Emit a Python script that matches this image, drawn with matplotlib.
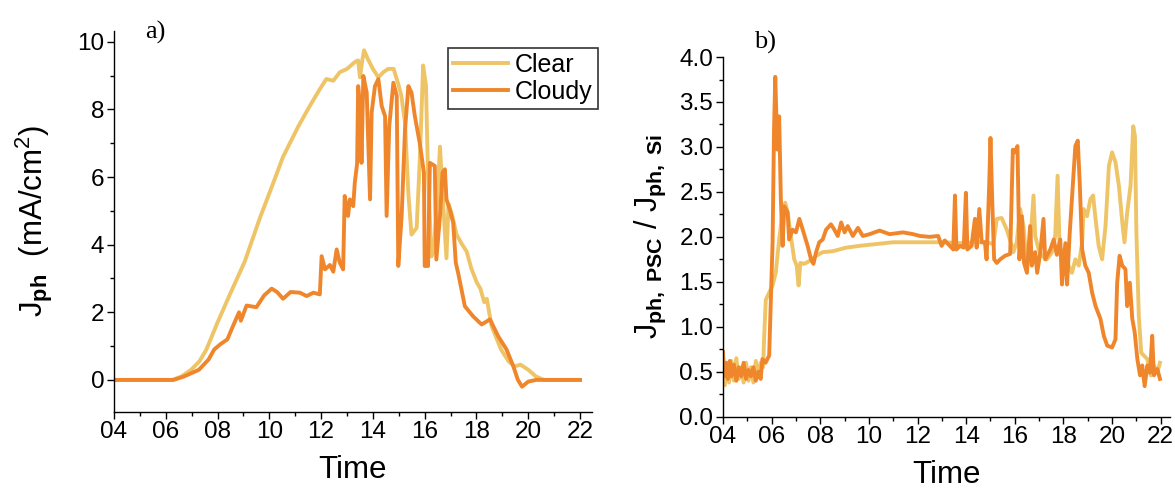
import matplotlib
matplotlib.use("Agg")
import matplotlib.pyplot as plt
from matplotlib.ticker import MultipleLocator, FuncFormatter

plt.rcParams['font.family'] = ['Liberation Sans', 'DejaVu Sans']
plt.rcParams['mathtext.fontset'] = 'custom'
plt.rcParams['mathtext.rm'] = 'Liberation Sans'
plt.rcParams['mathtext.it'] = 'Liberation Sans'
plt.rcParams['mathtext.bf'] = 'Liberation Sans:bold'

CLEAR_C = '#EEC466'
CLOUDY_C = '#F0862B'

# ---------------- panel a) : J_ph (mA/cm^2) ----------------
a_clear_t = [4.0, 6.25, 6.6, 6.98, 7.3, 7.57, 8.0, 8.46, 9.05, 9.64, 10.09, 10.53, 11.12, 11.56,
             11.95, 12.2, 12.47, 12.72, 13.0, 13.3, 13.43, 13.5, 13.6, 13.66, 13.8, 14.0, 14.21,
             14.4, 14.59, 14.8, 14.98, 15.1, 15.24, 15.37, 15.49, 15.69, 15.81, 15.94, 16.05,
             16.13, 16.26, 16.35, 16.5, 16.59, 16.7, 16.84, 16.92, 17.05, 17.23, 17.45, 17.62,
             17.8, 18.0, 18.15, 18.3, 18.4, 18.58, 18.95, 19.24, 19.47, 19.7, 20.0, 20.3, 20.6, 22.0]
a_clear_v = [0.0, 0.0, 0.1, 0.3, 0.55, 0.9, 1.7, 2.5, 3.5, 4.8, 5.7, 6.6, 7.5, 8.1,
             8.6, 8.9, 8.85, 9.1, 9.2, 9.4, 9.45, 8.95, 9.5, 9.75, 9.5, 9.2, 8.95,
             9.1, 9.2, 9.2, 8.75, 8.4, 7.6, 5.5, 4.3, 4.5, 6.5, 9.3, 8.7,
             6.0, 3.65, 3.8, 5.5, 6.9, 5.4, 3.6, 5.2, 4.9, 4.3, 4.0, 3.8,
             3.3, 2.9, 2.7, 2.3, 2.4, 1.6, 0.9, 0.55, 0.4, 0.45, 0.3, 0.1, 0.0, 0.0]

a_cloudy_t = [4.0, 6.3, 6.7, 7.28, 7.65, 7.87, 8.1, 8.38, 8.6, 8.83, 8.9, 9.12, 9.5, 9.8, 10.09,
              10.3, 10.53, 10.82, 11.18, 11.44, 11.7, 11.95, 12.02, 12.15, 12.34, 12.47, 12.6,
              12.72, 12.85, 12.91, 13.04, 13.11, 13.24, 13.3, 13.39, 13.43, 13.52, 13.56, 13.63,
              13.76, 13.89, 13.95, 14.08, 14.21, 14.34, 14.47, 14.53, 14.63, 14.79, 14.92, 14.98,
              15.11, 15.24, 15.37, 15.49, 15.62, 15.81, 15.97, 16.0, 16.13, 16.2, 16.39, 16.45,
              16.59, 16.69, 16.78, 16.84, 16.97, 17.1, 17.2, 17.29, 17.42, 17.55, 17.87, 18.2,
              18.52, 18.84, 19.16, 19.42, 19.6, 19.76, 20.0, 20.3, 22.0]
a_cloudy_v = [0.0, 0.0, 0.1, 0.3, 0.6, 0.9, 1.05, 1.2, 1.6, 2.0, 1.75, 2.2, 2.15, 2.5, 2.7,
              2.6, 2.4, 2.6, 2.58, 2.48, 2.58, 2.53, 3.66, 3.27, 3.4, 3.2, 3.86,
              3.47, 3.27, 5.44, 4.85, 5.34, 5.14, 5.83, 6.4, 8.69, 8.0, 6.42, 8.99,
              8.5, 5.34, 7.9, 8.69, 8.9, 8.1, 7.8, 4.85, 7.5, 8.79, 8.4, 3.37,
              4.85, 7.4, 8.69, 8.5, 7.8, 7.0, 6.13, 3.37, 3.37, 6.42, 6.33, 3.56,
              4.85, 6.13, 6.23, 5.34, 5.04, 4.65, 3.47, 3.17, 2.68, 2.18, 1.88, 1.64,
              1.79, 1.29, 0.9, 0.41, 0.0, -0.2, -0.05, 0.0, 0.0]

# ---------------- panel b) : J_ph,PSC / J_ph,Si ----------------
b_clear_t = [4.0, 4.08, 4.15, 4.25, 4.35, 4.45, 4.55, 4.65, 4.75, 4.85, 4.95, 5.05, 5.15, 5.25,
             5.35, 5.45, 5.55, 5.65, 5.69, 5.76, 5.9, 6.04, 6.17, 6.31, 6.45, 6.56, 6.66, 6.79,
             6.93, 7.03, 7.11, 7.18, 7.34, 7.55, 7.83, 8.1, 8.51, 9.06, 9.61, 10.3, 10.99, 11.68,
             12.37, 13.05, 13.74, 14.43, 14.84, 15.12, 15.26, 15.46, 15.67, 15.88, 15.94, 16.08,
             16.22, 16.36, 16.47, 16.6, 16.77, 16.84, 16.98, 17.11, 17.32, 17.53, 17.66, 17.76,
             17.84, 18.0, 18.21, 18.35, 18.49, 18.63, 18.77, 18.83, 18.97, 19.11, 19.22, 19.32,
             19.45, 19.59, 19.73, 19.87, 20.0, 20.14, 20.28, 20.42, 20.51, 20.62, 20.76, 20.87,
             20.94, 21.0, 21.1, 21.2, 21.31, 21.45, 21.59, 21.72, 21.86, 21.97]
b_clear_v = [0.5, 0.35, 0.6, 0.38, 0.62, 0.4, 0.65, 0.42, 0.55, 0.38, 0.6, 0.4, 0.55, 0.38,
             0.62, 0.45, 0.6, 0.55, 0.86, 1.3, 1.38, 1.46, 1.6, 1.97, 2.27, 2.38, 2.27, 2.01,
             1.75, 1.68, 1.46, 1.71, 1.7, 1.73, 1.79, 1.83, 1.84, 1.88, 1.9, 1.92, 1.94, 1.94,
             1.94, 1.94, 1.93, 1.94, 1.94, 1.92, 2.2, 2.21, 2.08, 1.9, 1.83, 1.94,
             2.31, 2.12, 1.75, 1.78, 2.46, 2.01, 1.86, 1.79, 1.75, 1.83, 2.01, 2.68,
             1.9, 1.79, 1.68, 1.6, 1.75, 1.68, 1.94, 2.31, 2.23, 2.42, 2.46, 2.2,
             1.9, 1.75, 2.12, 2.79, 2.94, 2.83, 2.57, 2.16, 1.94, 2.27, 2.57, 3.23,
             3.12, 2.05, 1.12, 0.71, 0.68, 0.64, 0.46, 0.57, 0.49, 0.6]

b_cloudy_t = [4.0, 4.05, 4.12, 4.2, 4.28, 4.35, 4.45, 4.55, 4.65, 4.75, 4.85, 4.95, 5.05, 5.15,
              5.25, 5.35, 5.45, 5.55, 5.62, 5.75, 5.9, 5.97, 6.04, 6.1, 6.15, 6.2, 6.24, 6.31,
              6.38, 6.45, 6.52, 6.66, 6.72, 6.86, 7.0, 7.14, 7.28, 7.48, 7.62, 7.72, 7.83, 7.96,
              8.1, 8.24, 8.44, 8.58, 8.72, 8.86, 9.0, 9.13, 9.34, 9.55, 9.75, 10.03, 10.44,
              10.85, 11.4, 11.82, 12.1, 12.5, 12.85, 12.99, 13.12, 13.33, 13.47, 13.54, 13.6,
              13.75, 13.9, 13.99, 14.05, 14.22, 14.36, 14.43, 14.54, 14.64, 14.77, 14.84, 14.95,
              15.0, 15.07, 15.15, 15.26, 15.4, 15.6, 15.81, 15.92, 16.01, 16.11, 16.19, 16.29,
              16.38, 16.5, 16.63, 16.7, 16.84, 16.92, 17.05, 17.18, 17.25, 17.46, 17.6, 17.73,
              17.87, 17.94, 18.08, 18.15, 18.26, 18.35, 18.49, 18.59, 18.67, 18.77, 18.9, 19.04,
              19.18, 19.32, 19.52, 19.66, 19.8, 20.0, 20.14, 20.21, 20.31, 20.42, 20.55, 20.62,
              20.73, 20.83, 20.93, 21.04, 21.15, 21.24, 21.34, 21.45, 21.56, 21.65, 21.72, 21.86,
              21.97]
b_cloudy_v = [0.72, 0.45, 0.6, 0.42, 0.62, 0.45, 0.58, 0.4, 0.55, 0.45, 0.6, 0.42, 0.52, 0.45,
              0.55, 0.4, 0.5, 0.42, 0.64, 0.6, 0.68, 1.3, 1.94, 3.2, 3.78, 3.3, 2.97, 3.34,
              2.42, 1.9, 2.34, 2.27, 1.97, 2.08, 2.05, 2.2, 2.08, 1.9, 1.75, 1.7, 1.83, 1.94,
              1.97, 2.08, 2.14, 2.08, 2.01, 2.16, 2.05, 2.12, 2.01, 2.1, 2.01, 2.03, 2.07,
              2.03, 2.05, 2.03, 2.01, 2.0, 2.01, 1.9, 1.96, 1.9, 1.86, 2.46, 1.86,
              1.9, 1.88, 2.49, 1.86, 1.9, 2.2, 1.88, 2.31, 1.94, 1.94, 1.75, 2.6,
              3.1, 2.42, 1.75, 1.71, 1.75, 1.79, 1.81, 2.97, 2.94, 3.01, 1.75, 2.23,
              1.71, 1.6, 2.12, 1.68, 1.83, 1.6, 1.83, 2.2, 1.75, 1.86, 1.97, 1.8,
              1.97, 1.47, 1.93, 1.47, 2.05, 2.42, 3.01, 3.07, 2.6, 1.86, 1.68, 1.6,
              1.38, 1.23, 1.09, 0.9, 0.79, 0.77, 0.86, 1.49, 1.79, 1.68, 1.64, 1.23,
              1.49, 1.09, 0.94, 0.64, 0.46, 0.57, 0.34, 0.57, 0.49, 0.9, 0.46, 0.53,
              0.42]

xticks = [4, 6, 8, 10, 12, 14, 16, 18, 20, 22]

fig = plt.figure(figsize=(11.75, 4.9), dpi=100)
axA = fig.add_axes([0.0970, 0.1598, 0.4068, 0.7776])
axB = fig.add_axes([0.6153, 0.1496, 0.3804, 0.7340])

LW = 2.8
axA.plot(a_clear_t, a_clear_v, color=CLEAR_C, lw=LW, label='Clear')
axA.plot(a_cloudy_t, a_cloudy_v, color=CLOUDY_C, lw=LW, label='Cloudy')
axB.plot(b_clear_t, b_clear_v, color=CLEAR_C, lw=LW)
axB.plot(b_cloudy_t, b_cloudy_v, color=CLOUDY_C, lw=LW)

fmt = FuncFormatter(lambda x, p: '%02d' % int(round(x)))
for ax in (axA, axB):
    for s in ('top', 'right'):
        ax.spines[s].set_visible(False)
    for s in ('left', 'bottom'):
        ax.spines[s].set_linewidth(1.0)
    ax.set_xticks(xticks)
    ax.xaxis.set_major_formatter(fmt)
    ax.xaxis.set_minor_locator(MultipleLocator(1))
    ax.tick_params(which='major', direction='out', length=5, width=1.0, labelsize=17.5, pad=2)
    ax.tick_params(which='minor', direction='out', length=3, width=1.0)
    ax.set_xlabel('Time', fontsize=22.5, labelpad=8)

axA.set_xlim(4, 22.46)
axA.set_ylim(-0.94, 10.33)
axA.set_yticks([0, 2, 4, 6, 8, 10])
axA.yaxis.set_minor_locator(MultipleLocator(1))
axA.set_ylabel(r'J$_{\mathbf{ph}}$  (mA/cm$^{2}$)', fontsize=22.5, labelpad=16)

axB.set_xlim(4, 22.38)
axB.set_ylim(0, 4.0)
axB.set_yticks([0.0, 0.5, 1.0, 1.5, 2.0, 2.5, 3.0, 3.5, 4.0])
axB.yaxis.set_major_formatter(FuncFormatter(lambda x, p: '%.1f' % x))
axB.yaxis.set_minor_locator(MultipleLocator(0.25))
axB.set_ylabel(r'J$_{\mathbf{ph,\ PSC}}$ / J$_{\mathbf{ph,\ Si}}$', fontsize=22, labelpad=8)

leg = axA.legend(loc='upper right', bbox_to_anchor=(1.012, 0.955), fontsize=18, frameon=True,
                 fancybox=False, edgecolor='black', handlelength=2.2, handletextpad=0.3,
                 borderpad=0.2, labelspacing=0.12, borderaxespad=0.0)
leg.get_frame().set_linewidth(1.2)

fig.text(155 / 1175, 1 - 32 / 490, 'a)', family='Liberation Serif', fontsize=19,
         ha='center', va='center')
fig.text(765 / 1175, 1 - 42 / 490, 'b)', family='Liberation Serif', fontsize=19,
         ha='center', va='center')

fig.savefig('out.png', dpi=100)
